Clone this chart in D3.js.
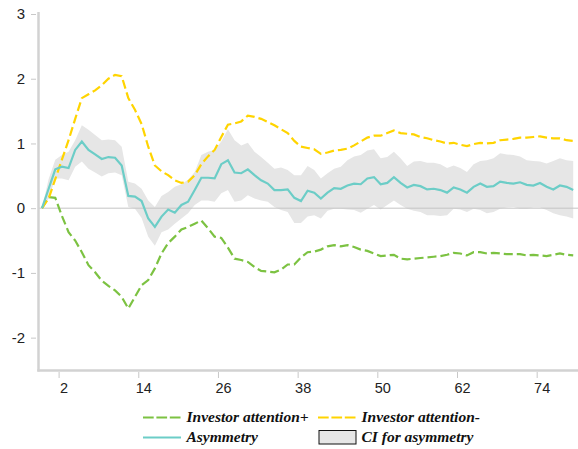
<!DOCTYPE html>
<html>
<head>
<meta charset="utf-8">
<script src="https://cdn.jsdelivr.net/npm/d3@7"></script>
<style>
  html, body { margin: 0; padding: 0; background: #fff; }
  svg { display: block; }
</style>
</head>
<body>
<svg id="chart" width="578" height="449"></svg>
<script>
// Impulse responses over 81 periods
const attentionPlus = [0, 0.17, 0.16, -0.12, -0.37, -0.50, -0.68, -0.88, -0.99, -1.12, -1.20, -1.27, -1.37, -1.55, -1.37, -1.19, -1.11, -0.93, -0.70, -0.54, -0.44, -0.33, -0.29, -0.24, -0.19, -0.31, -0.44, -0.46, -0.61, -0.78, -0.80, -0.83, -0.91, -0.97, -0.98, -0.99, -0.95, -0.87, -0.87, -0.76, -0.68, -0.67, -0.64, -0.59, -0.57, -0.59, -0.57, -0.60, -0.64, -0.66, -0.70, -0.74, -0.73, -0.72, -0.78, -0.79, -0.78, -0.77, -0.76, -0.75, -0.74, -0.72, -0.69, -0.70, -0.73, -0.68, -0.68, -0.70, -0.69, -0.70, -0.71, -0.71, -0.71, -0.73, -0.72, -0.73, -0.74, -0.72, -0.70, -0.72, -0.73];
const attentionMinus = [0, 0.15, 0.45, 0.75, 1.05, 1.38, 1.70, 1.76, 1.82, 1.90, 2.00, 2.06, 2.04, 1.70, 1.52, 1.30, 0.95, 0.66, 0.57, 0.51, 0.43, 0.39, 0.41, 0.51, 0.68, 0.80, 0.90, 1.10, 1.29, 1.31, 1.34, 1.43, 1.41, 1.38, 1.33, 1.28, 1.22, 1.16, 1.04, 0.95, 0.93, 0.91, 0.84, 0.86, 0.89, 0.90, 0.92, 0.97, 1.03, 1.09, 1.12, 1.12, 1.16, 1.20, 1.16, 1.15, 1.14, 1.10, 1.08, 1.05, 1.03, 1.00, 1.01, 0.98, 0.96, 0.99, 1.01, 1.00, 1.01, 1.05, 1.06, 1.07, 1.09, 1.09, 1.10, 1.11, 1.09, 1.08, 1.08, 1.05, 1.04];
const asymmetry = [0, 0.30, 0.60, 0.64, 0.62, 0.90, 1.03, 0.90, 0.83, 0.76, 0.79, 0.78, 0.66, 0.19, 0.18, 0.11, -0.16, -0.29, -0.13, -0.02, -0.07, 0.05, 0.10, 0.28, 0.47, 0.47, 0.46, 0.68, 0.74, 0.55, 0.54, 0.60, 0.51, 0.43, 0.38, 0.28, 0.28, 0.29, 0.16, 0.11, 0.27, 0.24, 0.15, 0.24, 0.31, 0.30, 0.35, 0.38, 0.37, 0.46, 0.48, 0.37, 0.39, 0.48, 0.39, 0.32, 0.36, 0.34, 0.29, 0.30, 0.28, 0.24, 0.32, 0.29, 0.24, 0.33, 0.38, 0.33, 0.34, 0.41, 0.39, 0.38, 0.40, 0.36, 0.35, 0.39, 0.33, 0.29, 0.35, 0.33, 0.28];
const ciUpper = [0, 0.45, 0.75, 0.82, 0.87, 1.05, 1.28, 1.21, 1.13, 1.05, 1.06, 1.05, 0.95, 0.41, 0.38, 0.30, 0.12, 0.02, 0.19, 0.25, 0.33, 0.37, 0.44, 0.56, 0.82, 0.87, 0.90, 1.03, 1.22, 1.05, 0.97, 1.01, 0.87, 0.79, 0.70, 0.61, 0.63, 0.59, 0.51, 0.51, 0.65, 0.59, 0.46, 0.54, 0.61, 0.64, 0.74, 0.80, 0.82, 0.89, 0.91, 0.77, 0.79, 0.87, 0.77, 0.65, 0.72, 0.73, 0.70, 0.70, 0.68, 0.62, 0.66, 0.62, 0.56, 0.68, 0.73, 0.74, 0.77, 0.85, 0.83, 0.82, 0.80, 0.74, 0.73, 0.72, 0.69, 0.73, 0.77, 0.74, 0.73];
const ciLower = [0, 0.15, 0.46, 0.46, 0.43, 0.64, 0.72, 0.61, 0.55, 0.49, 0.54, 0.55, 0.51, 0.02, -0.01, -0.15, -0.44, -0.58, -0.37, -0.33, -0.24, -0.16, -0.08, 0.05, 0.12, 0.12, 0.10, 0.23, 0.28, 0.10, 0.12, 0.20, 0.15, 0.12, 0.10, 0.02, -0.03, -0.06, -0.23, -0.23, -0.13, -0.11, -0.16, -0.04, -0.01, -0.01, -0.02, -0.03, -0.07, -0.01, 0.05, -0.02, 0.05, 0.12, 0.05, -0.01, -0.04, -0.06, -0.11, -0.11, -0.12, -0.11, -0.01, -0.02, -0.06, -0.01, -0.03, -0.08, -0.06, -0.01, 0.01, 0.02, -0.01, -0.01, 0.01, 0.01, -0.03, -0.08, -0.11, -0.13, -0.16];

const xTicks = [2, 14, 26, 38, 50, 62, 74];
const yTicks = [-2, -1, 0, 1, 2, 3];

const legendItems = [
  { label: "Investor attention+", kind: "dash", color: "#7cc242" },
  { label: "Investor attention-", kind: "dash", color: "#ffd400" },
  { label: "Asymmetry", kind: "solid", color: "#6ccdc7" },
  { label: "CI for asymmetry", kind: "box", color: "#e6e6e6" }
];

const svg = d3.select("#chart");

const x = d3.scaleLinear().domain([0, 80]).range([42, 573.2]);
const y = d3.scaleLinear().domain([-2.5, 3]).range([370, 14]);
// tick marks sit half a period to the right of the period they name
const xTickScale = x.copy().domain(x.domain().map(d => d - 0.5));
const plainNumber = d => String(d);

// confidence band
const band = d3.area()
  .x((d, i) => x(i))
  .y0((d, i) => y(ciLower[i]))
  .y1(d => y(d));
svg.append("path")
  .datum(ciUpper)
  .attr("d", band)
  .attr("fill", "#e6e6e6");

// zero reference line
svg.append("line")
  .attr("x1", 38).attr("x2", 578)
  .attr("y1", y(0)).attr("y2", y(0))
  .attr("stroke", "#c4c4c4").attr("stroke-width", 1);

// y axis
const yAxis = svg.append("g")
  .attr("transform", "translate(36,0)")
  .call(d3.axisLeft(y).tickValues(yTicks).tickSize(5).tickPadding(6).tickFormat(plainNumber));
yAxis.select(".domain").remove();
yAxis.selectAll(".tick line").attr("stroke", "#c8c8c8");
yAxis.selectAll(".tick text")
  .attr("fill", "#222").attr("font-family", "Liberation Sans, Arial, sans-serif").attr("font-size", 15);

// x axis
const xAxis = svg.append("g")
  .attr("transform", "translate(0,372)")
  .call(d3.axisBottom(xTickScale).tickValues(xTicks).tickSize(6).tickPadding(5).tickFormat(plainNumber));
xAxis.select(".domain").remove();
xAxis.selectAll(".tick line").attr("stroke", "#c8c8c8");
xAxis.selectAll(".tick text")
  .attr("dx", 5)
  .attr("fill", "#222").attr("font-family", "Liberation Sans, Arial, sans-serif").attr("font-size", 14.5);

// frame lines
svg.append("line")
  .attr("x1", 38.5).attr("x2", 38.5).attr("y1", 12).attr("y2", 371.5)
  .attr("stroke", "#d2d2d2").attr("stroke-width", 2.5);
svg.append("line")
  .attr("x1", 37.3).attr("x2", 578).attr("y1", 370.5).attr("y2", 370.5)
  .attr("stroke", "#d2d2d2").attr("stroke-width", 2.5);

const line = d3.line().x((d, i) => x(i)).y(d => y(d));

svg.append("path").datum(attentionPlus)
  .attr("d", line).attr("fill", "none")
  .attr("stroke", "#7cc242").attr("stroke-width", 2.2)
  .attr("stroke-dasharray", "9,4");

svg.append("path").datum(attentionMinus)
  .attr("d", line).attr("fill", "none")
  .attr("stroke", "#ffd400").attr("stroke-width", 2.2)
  .attr("stroke-dasharray", "9,4");

svg.append("path").datum(asymmetry)
  .attr("d", line).attr("fill", "none")
  .attr("stroke", "#6ccdc7").attr("stroke-width", 2.2);

// legend, two columns by two rows
const legend = svg.append("g");
const colX = [143, 318];
const rowY = [417.5, 437.5];
legendItems.forEach((item, k) => {
  const gx = colX[k % 2], gy = rowY[Math.floor(k / 2)];
  const g = legend.append("g").attr("transform", `translate(${gx},${gy})`);
  if (item.kind === "box") {
    g.append("rect").attr("x", 1).attr("y", -7).attr("width", 37).attr("height", 13.5)
      .attr("fill", item.color).attr("stroke", "#111").attr("stroke-width", 1);
  } else {
    g.append("line").attr("x1", 0).attr("x2", 38).attr("y1", 0).attr("y2", 0)
      .attr("stroke", item.color).attr("stroke-width", 2.2)
      .attr("stroke-dasharray", item.kind === "dash" ? "10.7,2.7" : null);
  }
  g.append("text")
    .attr("x", 43.5).attr("y", 4.5)
    .attr("font-family", "Liberation Serif, Times New Roman, serif")
    .attr("font-style", "italic").attr("font-weight", "bold")
    .attr("font-size", 15.5).attr("fill", "#111")
    .text(item.label);
});
</script>
</body>
</html>
